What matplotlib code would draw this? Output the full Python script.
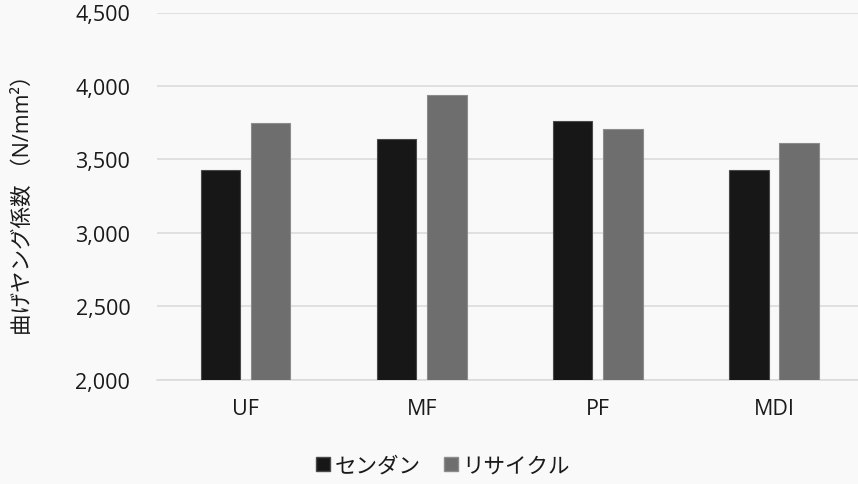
import matplotlib
matplotlib.use("Agg")
import matplotlib.pyplot as plt
import numpy as np
from matplotlib.patches import Patch
from matplotlib.ticker import FuncFormatter

plt.rcParams['font.family'] = ['Open Sans', 'Noto Sans CJK JP', 'DejaVu Sans']

categories = ["UF", "MF", "PF", "MDI"]
series_names = ["センダン", "リサイクル"]
sendan = [3430, 3640, 3760, 3425]
recycle = [3750, 3940, 3705, 3610]
yticks = [2000, 2500, 3000, 3500, 4000, 4500]
ylabel = "曲げヤング係数 （N/mm²）"

colors = ["#171717", "#6e6e6e"]
edges = ["#4a4a4a", "#8c8c8c"]
bg = "#f9f9f9"
fs = 15.5

fig = plt.figure(figsize=(8.58, 4.85), dpi=100, facecolor=bg)
ax = fig.add_axes([157.4 / 858, 1 - 380.7 / 485, 704.7 / 858, (380.7 - 13.5) / 485])
ax.set_facecolor(bg)

x = np.arange(len(categories))
w = 0.224
off = 0.143
ax.bar(x - off, sendan, w, color=colors[0], edgecolor=edges[0], linewidth=0.8, zorder=3)
ax.bar(x + off, recycle, w, color=colors[1], edgecolor=edges[1], linewidth=0.8, zorder=3)

ax.set_xlim(-0.5, len(categories) - 0.5)
ax.set_ylim(2000, 4500)
ax.set_yticks(yticks)
ax.yaxis.set_major_formatter(FuncFormatter(lambda v, p: f"{int(v):,}"))
ax.set_xticks(x)
ax.set_xticklabels(categories)
ax.tick_params(axis='both', length=0, labelsize=fs, colors="#1a1a1a")
ax.tick_params(axis='y', pad=19.5)
ax.tick_params(axis='x', pad=13)
ax.grid(axis='y', color="#d9d9d9", linewidth=1.1, zorder=0)
for s in ["top", "right", "left"]:
    ax.spines[s].set_visible(False)
ax.spines["bottom"].set_color("#d9d9d9")
ax.spines["bottom"].set_linewidth(1.1)

fig.text(23 / 858, 1 - 200 / 485, ylabel, rotation=90, ha='center', va='center',
         fontsize=fs, color="#1a1a1a")

handles = [Patch(facecolor=colors[0], edgecolor=edges[0]),
           Patch(facecolor=colors[1], edgecolor=edges[1])]
fig.legend(handles, series_names, loc='center', bbox_to_anchor=(443 / 858, 1 - 467 / 485),
           ncol=2, frameon=False, fontsize=fs, handlelength=0.65, handleheight=0.65,
           handletextpad=0.2, columnspacing=1.1, labelcolor="#1a1a1a")

fig.savefig("out.png", dpi=100, facecolor=bg)
